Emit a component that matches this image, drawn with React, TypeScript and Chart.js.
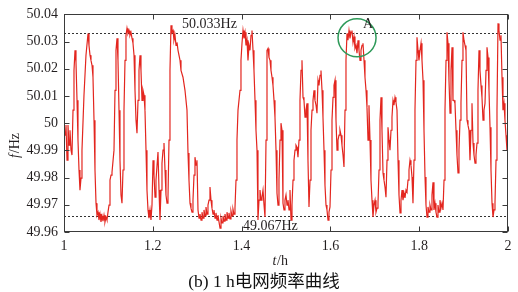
import React, { useEffect, useRef } from 'react';
import { Chart, registerables } from 'chart.js';

Chart.register(...registerables);

// time in hours
const timeH = [
  1.0000, 1.0023, 1.0045, 1.0068, 1.0090, 1.0113, 1.0135, 1.0158, 1.0180, 1.0203,
  1.0225, 1.0248, 1.0270, 1.0293, 1.0315, 1.0338, 1.0360, 1.0383, 1.0405, 1.0450,
  1.0495, 1.0541, 1.0563, 1.0586, 1.0608, 1.0631, 1.0653, 1.0676, 1.0698, 1.0721,
  1.0743, 1.0766, 1.0788, 1.0811, 1.0833, 1.0856, 1.0878, 1.0901, 1.0923, 1.0946,
  1.0968, 1.0991, 1.1014, 1.1036, 1.1059, 1.1081, 1.1126, 1.1149, 1.1171, 1.1194,
  1.1216, 1.1239, 1.1261, 1.1284, 1.1306, 1.1329, 1.1351, 1.1374, 1.1396, 1.1419,
  1.1441, 1.1464, 1.1486, 1.1509, 1.1532, 1.1554, 1.1577, 1.1599, 1.1622, 1.1644,
  1.1667, 1.1689, 1.1712, 1.1734, 1.1757, 1.1779, 1.1802, 1.1824, 1.1847, 1.1869,
  1.1892, 1.1914, 1.1937, 1.1959, 1.1982, 1.2005, 1.2027, 1.2050, 1.2072, 1.2117,
  1.2140, 1.2162, 1.2185, 1.2207, 1.2230, 1.2252, 1.2275, 1.2297, 1.2320, 1.2342,
  1.2365, 1.2387, 1.2410, 1.2432, 1.2455, 1.2477, 1.2500, 1.2523, 1.2545, 1.2568,
  1.2613, 1.2635, 1.2680, 1.2725, 1.2770, 1.2793, 1.2815, 1.2838, 1.2860, 1.2883,
  1.2905, 1.2928, 1.2950, 1.2973, 1.2995, 1.3018, 1.3041, 1.3063, 1.3086, 1.3108,
  1.3131, 1.3153, 1.3176, 1.3198, 1.3221, 1.3243, 1.3266, 1.3288, 1.3311, 1.3333,
  1.3356, 1.3378, 1.3401, 1.3423, 1.3446, 1.3468, 1.3491, 1.3514, 1.3536, 1.3559,
  1.3581, 1.3604, 1.3626, 1.3649, 1.3671, 1.3694, 1.3716, 1.3739, 1.3761, 1.3784,
  1.3806, 1.3829, 1.3851, 1.3874, 1.3896, 1.3919, 1.3964, 1.3986, 1.4009, 1.4032,
  1.4054, 1.4077, 1.4099, 1.4122, 1.4144, 1.4167, 1.4189, 1.4212, 1.4234, 1.4257,
  1.4279, 1.4302, 1.4324, 1.4347, 1.4369, 1.4392, 1.4414, 1.4437, 1.4459, 1.4482,
  1.4505, 1.4527, 1.4550, 1.4572, 1.4595, 1.4617, 1.4640, 1.4662, 1.4685, 1.4707,
  1.4730, 1.4752, 1.4775, 1.4797, 1.4820, 1.4842, 1.4865, 1.4887, 1.4910, 1.4932,
  1.4955, 1.4977, 1.5000, 1.5023, 1.5045, 1.5068, 1.5090, 1.5113, 1.5135, 1.5158,
  1.5180, 1.5203, 1.5225, 1.5248, 1.5270, 1.5293, 1.5315, 1.5338, 1.5360, 1.5383,
  1.5405, 1.5428, 1.5450, 1.5473, 1.5495, 1.5518, 1.5541, 1.5563, 1.5586, 1.5608,
  1.5631, 1.5653, 1.5676, 1.5698, 1.5721, 1.5743, 1.5766, 1.5788, 1.5811, 1.5833,
  1.5856, 1.5878, 1.5901, 1.5923, 1.5946, 1.5968, 1.5991, 1.6014, 1.6036, 1.6059,
  1.6081, 1.6104, 1.6126, 1.6149, 1.6171, 1.6194, 1.6216, 1.6239, 1.6261, 1.6284,
  1.6306, 1.6329, 1.6351, 1.6374, 1.6396, 1.6419, 1.6441, 1.6464, 1.6486, 1.6509,
  1.6532, 1.6554, 1.6577, 1.6599, 1.6622, 1.6644, 1.6667, 1.6689, 1.6712, 1.6734,
  1.6757, 1.6779, 1.6802, 1.6824, 1.6847, 1.6869, 1.6892, 1.6914, 1.6937, 1.6959,
  1.6982, 1.7005, 1.7027, 1.7050, 1.7072, 1.7095, 1.7117, 1.7140, 1.7162, 1.7185,
  1.7207, 1.7230, 1.7252, 1.7275, 1.7297, 1.7320, 1.7342, 1.7365, 1.7387, 1.7410,
  1.7432, 1.7455, 1.7477, 1.7500, 1.7523, 1.7545, 1.7568, 1.7590, 1.7613, 1.7635,
  1.7658, 1.7680, 1.7703, 1.7725, 1.7748, 1.7770, 1.7793, 1.7815, 1.7838, 1.7860,
  1.7883, 1.7905, 1.7928, 1.7950, 1.7973, 1.7995, 1.8018, 1.8041, 1.8063, 1.8086,
  1.8108, 1.8131, 1.8153, 1.8176, 1.8198, 1.8221, 1.8243, 1.8266, 1.8288, 1.8311,
  1.8333, 1.8356, 1.8378, 1.8401, 1.8423, 1.8446, 1.8468, 1.8491, 1.8514, 1.8536,
  1.8559, 1.8581, 1.8604, 1.8626, 1.8649, 1.8671, 1.8694, 1.8716, 1.8739, 1.8761,
  1.8784, 1.8806, 1.8829, 1.8851, 1.8874, 1.8896, 1.8919, 1.8941, 1.8964, 1.8986,
  1.9009, 1.9032, 1.9054, 1.9077, 1.9099, 1.9122, 1.9144, 1.9167, 1.9189, 1.9212,
  1.9234, 1.9257, 1.9279, 1.9302, 1.9324, 1.9347, 1.9369, 1.9392, 1.9414, 1.9437,
  1.9459, 1.9482, 1.9505, 1.9527, 1.9550, 1.9572, 1.9595, 1.9617, 1.9640, 1.9662,
  1.9685, 1.9707, 1.9730, 1.9752, 1.9775, 1.9797, 1.9820, 1.9842, 1.9865, 1.9887,
  1.9910, 1.9932, 1.9955, 1.9977, 2.0000,
];

// grid frequency in Hz
const freqHz = [
  50.0011, 49.9956, 49.9993, 49.9864, 49.9993, 49.9919, 49.9974, 49.9901, 49.9883, 50.0048,
  50.0194, 50.0268, 50.0224, 50.0084, 49.9938, 49.9828, 49.9754, 49.9798, 49.9901, 50.0103,
  50.0250, 50.0330, 50.0286, 50.0250, 50.0231, 50.0213, 50.0169, 50.0011, 49.9828, 49.9706,
  49.9662, 49.9673, 49.9644, 49.9666, 49.9637, 49.9659, 49.9640, 49.9662, 49.9637, 49.9655,
  49.9644, 49.9673, 49.9699, 49.9791, 49.9809, 49.9820, 49.9901, 50.0121, 50.0268, 50.0312,
  50.0231, 50.0048, 49.9864, 49.9736, 49.9706, 49.9828, 50.0048, 50.0231, 50.0323, 50.0349,
  50.0330, 50.0341, 50.0323, 50.0334, 50.0312, 50.0294, 50.0250, 50.0121, 50.0011, 49.9963,
  50.0084, 50.0194, 50.0250, 50.0194, 50.0084, 50.0121, 50.0103, 50.0048, 49.9901, 49.9754,
  49.9681, 49.9651, 49.9681, 49.9644, 49.9699, 49.9864, 49.9809, 49.9728, 49.9791, 49.9894,
  49.9754, 49.9644, 49.9754, 49.9853, 49.9901, 49.9927, 49.9828, 49.9736, 49.9706, 49.9728,
  49.9938, 50.0194, 50.0360, 50.0334, 50.0341, 50.0305, 50.0323, 50.0286, 50.0297, 50.0268,
  50.0231, 50.0194, 50.0169, 50.0121, 50.0048, 49.9890, 49.9791, 49.9706, 49.9688, 49.9673,
  49.9717, 49.9809, 49.9875, 49.9846, 49.9864, 49.9681, 49.9651, 49.9666, 49.9644, 49.9673,
  49.9651, 49.9681, 49.9659, 49.9692, 49.9666, 49.9699, 49.9717, 49.9765, 49.9717, 49.9688,
  49.9666, 49.9681, 49.9651, 49.9670, 49.9644, 49.9662, 49.9637, 49.9614, 49.9651, 49.9633,
  49.9659, 49.9640, 49.9666, 49.9644, 49.9673, 49.9651, 49.9670, 49.9648, 49.9677, 49.9659,
  49.9684, 49.9666, 49.9688, 49.9791, 49.9938, 50.0048, 50.0121, 50.0231, 50.0294, 50.0341,
  50.0312, 50.0334, 50.0286, 50.0305, 50.0231, 50.0286, 50.0268, 50.0323, 50.0341, 50.0268,
  50.0194, 50.0084, 49.9974, 49.9901, 49.9644, 49.9717, 49.9754, 49.9717, 49.9728, 49.9754,
  49.9699, 49.9655, 49.9938, 50.0268, 50.0275, 50.0242, 50.0231, 50.0194, 50.0169, 50.0139,
  50.0084, 50.0022, 49.9901, 49.9743, 49.9699, 49.9791, 49.9938, 50.0000, 49.9974, 49.9706,
  49.9681, 49.9717, 49.9736, 49.9699, 49.9717, 49.9681, 49.9754, 49.9644, 49.9699, 49.9791,
  49.9864, 49.9901, 49.9919, 49.9912, 49.9875, 49.9938, 50.0084, 50.0194, 50.0231, 50.0095,
  50.0084, 50.0022, 50.0048, 50.0073, 49.9864, 49.9692, 49.9791, 49.9974, 50.0048, 50.0084,
  50.0121, 50.0084, 50.0066, 50.0037, 50.0158, 50.0139, 50.0176, 50.0194, 50.0121, 50.0022,
  49.9901, 49.9772, 49.9699, 49.9681, 49.9644, 49.9673, 49.9692, 49.9828, 50.0011, 50.0095,
  50.0139, 50.0158, 50.0011, 49.9901, 49.9938, 49.9956, 49.9974, 49.9956, 49.9919, 49.9883,
  49.9839, 50.0048, 50.0231, 50.0330, 50.0305, 50.0341, 50.0312, 50.0334, 50.0341, 50.0297,
  50.0319, 50.0275, 50.0286, 50.0257, 50.0305, 50.0268, 50.0231, 50.0268, 50.0286, 50.0294,
  50.0231, 50.0169, 50.0121, 50.0059, 49.9938, 50.0066, 49.9938, 49.9791, 49.9717, 49.9655,
  49.9699, 49.9717, 49.9673, 49.9688, 49.9706, 49.9828, 50.0011, 50.0095, 49.9974, 49.9817,
  49.9791, 49.9765, 49.9728, 49.9864, 49.9985, 49.9938, 49.9901, 49.9974, 50.0022, 50.0084,
  50.0066, 50.0095, 50.0077, 50.0048, 49.9864, 49.9736, 49.9670, 49.9717, 49.9754, 49.9717,
  49.9743, 49.9725, 49.9754, 49.9747, 49.9791, 49.9828, 49.9864, 49.9846, 49.9802, 49.9706,
  49.9864, 50.0048, 50.0231, 50.0316, 50.0268, 50.0231, 50.0268, 50.0294, 50.0231, 50.0158,
  49.9974, 49.9802, 49.9699, 49.9655, 49.9692, 49.9673, 49.9699, 49.9681, 49.9736, 49.9783,
  49.9681, 49.9706, 49.9673, 49.9655, 49.9699, 49.9673, 49.9717, 49.9688, 49.9706, 49.9681,
  49.9791, 50.0048, 50.0231, 50.0334, 50.0294, 50.0158, 50.0037, 50.0194, 50.0279, 50.0084,
  50.0084, 50.0073, 49.9974, 49.9883, 49.9817, 49.9901, 50.0011, 50.0073, 50.0231, 50.0334,
  50.0305, 50.0286, 50.0268, 50.0011, 49.9993, 49.9974, 49.9864, 49.9974, 50.0073, 49.9927,
  49.9883, 49.9853, 49.9883, 49.9927, 50.0121, 50.0268, 50.0194, 50.0139, 50.0095, 50.0011,
  50.0048, 50.0073, 50.0194, 50.0279, 50.0242, 50.0121, 49.9985, 49.9828, 49.9706, 49.9655,
  49.9681, 49.9706, 49.9864, 50.0048, 50.0367, 50.0341, 50.0305, 50.0323, 50.0169, 50.0048,
  50.0073, 50.0011, 49.9956, 49.9901, 49.9938,
];

const xTickValues = [1, 1.2, 1.4, 1.6, 1.8, 2];
const xTickLabels = ['1', '1.2', '1.4', '1.6', '1.8', '2'];
const yTickValues = [49.96, 49.97, 49.98, 49.99, 50, 50.01, 50.02, 50.03, 50.04];
const yTickLabels = ['49.96', '49.97', '49.98', '49.99', '50', '50.01', '50.02', '50.03', '50.04'];

const upperLimitHz = 50.033;
const lowerLimitHz = 49.966;
const upperLimitLabel = '50.033Hz';
const lowerLimitLabel = '49.067Hz';
const upperLabelT = 1.266;
const lowerLabelT = 1.403;

const markerT = 1.66;
const markerHz = 50.0314;
const markerText = 'A';

const xTitleItalic = 't';
const xTitleRest = '/h';
const yTitleItalic = 'f';
const yTitleRest = '/Hz';
const captionText = '(b) 1 h电网频率曲线';

const SERIF = '"Liberation Serif", "Times New Roman", serif';
const TEXT = '#231f20';
const AXIS = '#3a3a3a';
const LINE_RED = '#e3261f';
const CIRCLE_GREEN = '#2f9a5a';

const decorPlugin = {
  id: 'decor',
  beforeDatasetsDraw(chart: any) {
    const { ctx, chartArea: a, scales } = chart;
    const y = scales.y;
    ctx.save();
    ctx.strokeStyle = '#333333';
    ctx.lineWidth = 1;
    ctx.setLineDash([2, 2]);
    for (const v of [upperLimitHz, lowerLimitHz]) {
      const py = Math.round(y.getPixelForValue(v)) + 0.5;
      ctx.beginPath();
      ctx.moveTo(a.left, py);
      ctx.lineTo(a.right, py);
      ctx.stroke();
    }
    ctx.restore();
  },
  afterDraw(chart: any) {
    const { ctx, chartArea: a, scales } = chart;
    const x = scales.x;
    const y = scales.y;
    ctx.save();
    // frame
    ctx.strokeStyle = AXIS;
    ctx.lineWidth = 1;
    ctx.setLineDash([]);
    const L = Math.round(a.left) + 0.5;
    const R = Math.round(a.right) - 0.5;
    const T = Math.round(a.top) + 0.5;
    const B = Math.round(a.bottom) - 0.5;
    ctx.strokeRect(L, T, R - L, B - T);
    const tl = 5;
    ctx.beginPath();
    for (const v of xTickValues) {
      const px = Math.round(x.getPixelForValue(v)) + 0.5;
      ctx.moveTo(px, B); ctx.lineTo(px, B - tl);
      ctx.moveTo(px, T); ctx.lineTo(px, T + tl);
    }
    for (const v of yTickValues) {
      const py = Math.round(y.getPixelForValue(v)) + 0.5;
      ctx.moveTo(L, py); ctx.lineTo(L + tl, py);
      ctx.moveTo(R, py); ctx.lineTo(R - tl, py);
    }
    ctx.stroke();

    // limit labels
    ctx.fillStyle = TEXT;
    ctx.font = `14px ${SERIF}`;
    ctx.textAlign = 'left';
    ctx.textBaseline = 'middle';
    ctx.fillText(upperLimitLabel, x.getPixelForValue(upperLabelT), y.getPixelForValue(upperLimitHz) - 9);
    ctx.fillText(lowerLimitLabel, x.getPixelForValue(lowerLabelT), y.getPixelForValue(lowerLimitHz) + 11);

    // marker circle
    const cx = x.getPixelForValue(markerT);
    const cy = y.getPixelForValue(markerHz);
    ctx.strokeStyle = CIRCLE_GREEN;
    ctx.lineWidth = 1.5;
    ctx.beginPath();
    ctx.arc(cx, cy, 19, 0, Math.PI * 2);
    ctx.stroke();
    ctx.textAlign = 'center';
    ctx.fillText(markerText, cx + 11, cy - 13);

    // x title
    ctx.textBaseline = 'middle';
    ctx.textAlign = 'left';
    ctx.font = `italic 14px ${SERIF}`;
    const wI = ctx.measureText(xTitleItalic).width;
    ctx.font = `14px ${SERIF}`;
    const wR = ctx.measureText(xTitleRest).width;
    const xtCenter = (a.left + a.right) / 2 - 6;
    const xtStart = xtCenter - (wI + wR) / 2;
    ctx.font = `italic 14px ${SERIF}`;
    ctx.fillText(xTitleItalic, xtStart, 261);
    ctx.font = `14px ${SERIF}`;
    ctx.fillText(xTitleRest, xtStart + wI + 0.5, 261);

    // y title
    ctx.save();
    ctx.translate(15, 146);
    ctx.rotate(-Math.PI / 2);
    ctx.font = `italic 14px ${SERIF}`;
    const yI = ctx.measureText(yTitleItalic).width;
    ctx.font = `14px ${SERIF}`;
    const yR = ctx.measureText(yTitleRest).width;
    const ys = -(yI + yR) / 2;
    ctx.font = `italic 14px ${SERIF}`;
    ctx.fillText(yTitleItalic, ys, 0);
    ctx.font = `14px ${SERIF}`;
    ctx.fillText(yTitleRest, ys + yI + 1, 0);
    ctx.restore();

    // caption
    ctx.font = `17.5px ${SERIF}, "Noto Sans CJK SC"`;
    ctx.textAlign = 'center';
    ctx.textBaseline = 'middle';
    ctx.fillStyle = '#111111';
    ctx.fillText(captionText, 264, 282);
    ctx.restore();
  },
};

export default function App() {
  const canvasRef = useRef<HTMLCanvasElement | null>(null);

  useEffect(() => {
    const canvas = canvasRef.current;
    if (!canvas) return;
    const points = timeH.map((t, i) => ({ x: t, y: freqHz[i] }));
    const chart = new Chart(canvas, {
      type: 'line',
      data: {
        datasets: [
          {
            data: points,
            borderColor: LINE_RED,
            borderWidth: 1.2,
            pointRadius: 0,
            tension: 0,
            fill: false,
          },
        ],
      },
      options: {
        animation: false,
        responsive: false,
        devicePixelRatio: 1,
        layout: { padding: { left: 0, right: 10, top: 14, bottom: 0 } },
        plugins: {
          legend: { display: false },
          tooltip: { enabled: false },
          title: { display: false },
        },
        scales: {
          x: {
            type: 'linear',
            min: 1,
            max: 2,
            grid: { display: false, drawTicks: false },
            border: { display: false },
            afterBuildTicks: (s: any) => { s.ticks = xTickValues.map((v) => ({ value: v })); },
            afterFit: (s: any) => { s.height = 60; },
            ticks: {
              padding: 6,
              color: TEXT,
              maxRotation: 0,
              autoSkip: false,
              font: { family: SERIF, size: 14 },
              callback: (_v: any, i: number) => xTickLabels[i],
            },
          },
          y: {
            type: 'linear',
            min: 49.96,
            max: 50.04,
            grid: { display: false, drawTicks: false },
            border: { display: false },
            afterBuildTicks: (s: any) => { s.ticks = yTickValues.map((v) => ({ value: v })); },
            afterFit: (s: any) => { s.width = 64; },
            ticks: {
              padding: 6,
              color: TEXT,
              autoSkip: false,
              font: { family: SERIF, size: 14 },
              callback: (_v: any, i: number) => yTickLabels[i],
            },
          },
        },
      },
      plugins: [decorPlugin],
    });
    return () => chart.destroy();
  }, []);

  return (
    <div style={{ position: 'fixed', left: 0, top: 0, width: 518, height: 292, background: '#ffffff' }}>
      <canvas ref={canvasRef} width={518} height={292} style={{ display: 'block', width: 518, height: 292 }} />
    </div>
  );
}
